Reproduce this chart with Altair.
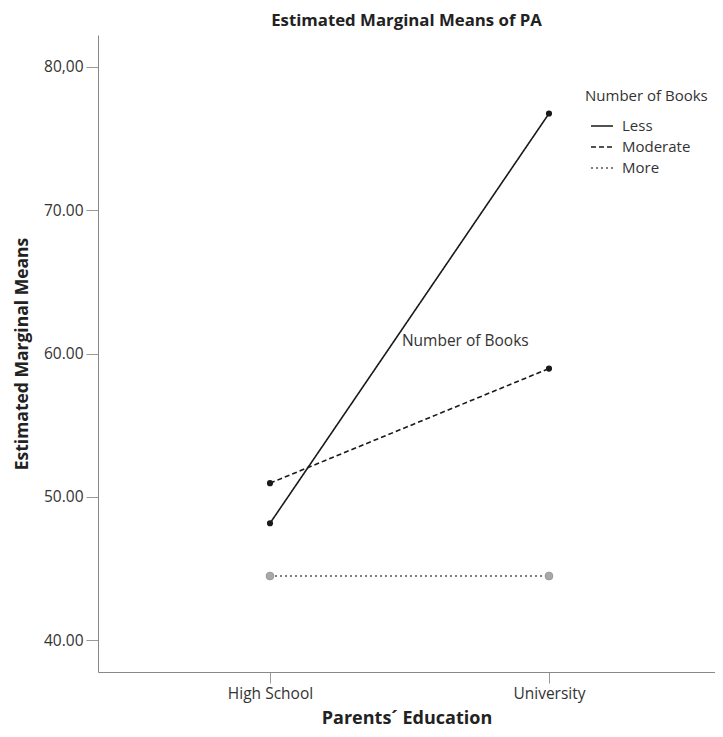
import altair as alt
import pandas as pd

education = ["High School", "University"]
books = ["Less", "Moderate", "More"]
less_vals = [48.15, 76.75]
moderate_vals = [50.95, 58.95]
more_vals = [44.47, 44.47]

rows = []
for grp, vals in zip(books, [less_vals, moderate_vals, more_vals]):
    for i, (ed, v) in enumerate(zip(education, vals)):
        rows.append({"edu": ed, "idx": i, "books": grp, "mean": v})
df = pd.DataFrame(rows)

annot = pd.DataFrame({"idx": [0.70], "mean": [60.9], "label": ["Number of Books"]})

FONT = "Open Sans"
label_expr = "datum.value == 0 ? 'High School' : (datum.value == 1 ? 'University' : '')"

x = alt.X("idx:Q",
          scale=alt.Scale(domain=[-0.6165, 1.595], nice=False, zero=False),
          axis=alt.Axis(title="Parents´ Education", values=[0, 1], labelExpr=label_expr,
                        grid=False, tickSize=11, labelPadding=3, titlePadding=8,
                        labelFontSize=15.5, titleFontSize=18, titleFontWeight="bold"))
y = alt.Y("mean:Q",
          scale=alt.Scale(domain=[37.77, 82.23], nice=False, zero=False),
          axis=alt.Axis(title="Estimated Marginal Means", values=[40, 50, 60, 70, 80],
                        labelExpr="datum.value == 80 ? '80,00' : format(datum.value, '.2f')",
                        grid=False, tickSize=12, labelPadding=3, titlePadding=12,
                        labelFontSize=15.5, titleFontSize=17.5, titleFontWeight="bold"))

legend = alt.Legend(title="Number of Books", orient="none", legendX=487, legendY=54,
                    symbolType="stroke", symbolSize=484, symbolStrokeWidth=1.5,
                    symbolOffset=5, labelFontSize=15, titleFontSize=15,
                    titleFontWeight="normal", titlePadding=10, rowPadding=1, labelOffset=8)

color = alt.Color("books:N", scale=alt.Scale(domain=books, range=["#1a1a1a", "#1a1a1a", "#555555"]),
                  legend=legend)
dash = alt.StrokeDash("books:N", scale=alt.Scale(domain=books, range=[[1, 0], [5, 3], [2, 3]]),
                      legend=legend)

lines = alt.Chart(df).mark_line(strokeWidth=1.6).encode(x=x, y=y, color=color, strokeDash=dash)

pts = alt.Chart(df).transform_filter(alt.datum.books != "More").mark_point(
    filled=True, opacity=1, size=38, color="#1a1a1a").encode(x="idx:Q", y="mean:Q")

pts_more = alt.Chart(df).transform_filter(alt.datum.books == "More").mark_point(
    filled=True, opacity=1, size=60, fill="#a8a8a8", stroke="#999999", strokeWidth=1
).encode(x="idx:Q", y="mean:Q")

txt = alt.Chart(annot).mark_text(font=FONT, fontSize=15.5, color="#333333").encode(
    x="idx:Q", y="mean:Q", text="label:N")

chart = alt.layer(lines, pts, pts_more, txt).properties(
    width=617, height=637,
    title=alt.TitleParams("Estimated Marginal Means of PA", font=FONT, fontSize=16.8,
                          fontWeight="bold", color="#222222", offset=5, anchor="middle"),
    autosize=alt.AutoSizeParams(type="none"),
    padding={"left": 90, "top": 27, "right": 0, "bottom": 56},
).configure_axis(
    domainColor="#888888", tickColor="#999999", labelColor="#333333", titleColor="#222222",
    labelFont=FONT, titleFont=FONT,
).configure_view(stroke=None).configure_legend(
    labelFont=FONT, titleFont=FONT, titleColor="#333333", labelColor="#333333",
)

chart.save("out.html", embed_options={"renderer": "svg", "actions": False})
